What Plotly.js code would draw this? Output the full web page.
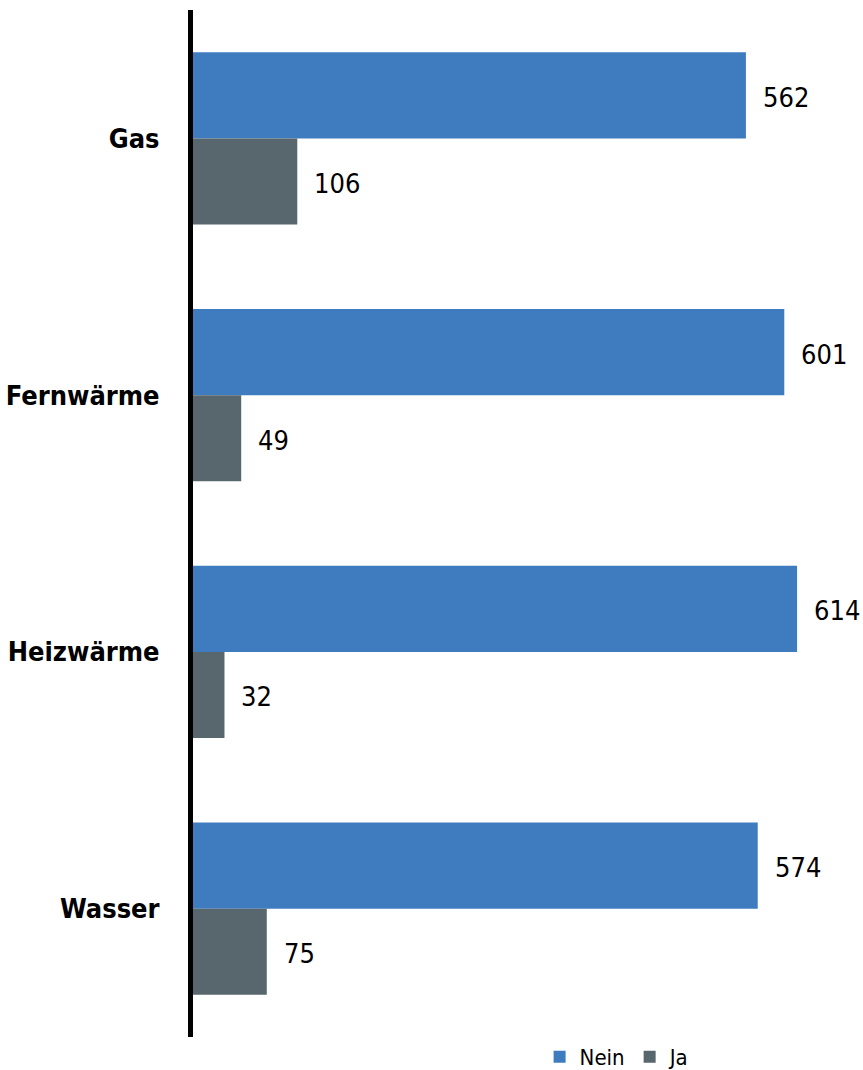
<!DOCTYPE html>
<html><head><meta charset="utf-8">
<script src="https://cdn.plot.ly/plotly-3.0.1.min.js"></script>
<style>html,body{margin:0;padding:0;background:#fff}</style>
</head><body>
<div id="chart" style="width:863px;height:1070px"></div>
<script>
const categories = ["Gas", "Fernwärme", "Heizwärme", "Wasser"];
const nein = [562, 601, 614, 574];
const ja = [106, 49, 32, 75];
const seriesNames = ["Nein", "Ja"];

const FONT = '"DejaVu Sans Condensed", "Liberation Sans Narrow", Arial, sans-serif';
const traces = [
  {type:'bar', orientation:'h', name:seriesNames[0], y:categories, x:nein,
   marker:{color:'#3F7CBF'}, offsetgroup:'a', hoverinfo:'none'},
  {type:'bar', orientation:'h', name:seriesNames[1], y:categories, x:ja,
   marker:{color:'#58676E'}, offsetgroup:'b', hoverinfo:'none'}
];

const annotations = [];
categories.forEach((c,i)=>{
  annotations.push({x:nein[i], y:i, xref:'x', yref:'y', text:String(nein[i]), showarrow:false,
    xanchor:'left', yanchor:'middle', xshift:15, yshift:41, font:{family:FONT, size:27, color:'#000'}});
  annotations.push({x:ja[i], y:i, xref:'x', yref:'y', text:String(ja[i]), showarrow:false,
    xanchor:'left', yanchor:'middle', xshift:15, yshift:-45, font:{family:FONT, size:27, color:'#000'}});
});

const layout = {
  width:863, height:1070,
  margin:{l:193, r:0, t:10, b:33, autoexpand:false},
  paper_bgcolor:'#fff', plot_bgcolor:'#fff',
  barmode:'group', bargap:0.33, bargroupgap:0,
  showlegend:true,
  legend:{orientation:'h', x:0.633, xanchor:'center', y:-0.0195, yanchor:'middle',
    font:{family:FONT, size:22, color:'#000'}, traceorder:'normal', itemwidth:30},
  xaxis:{range:[0,681], showgrid:false, zeroline:false, showticklabels:false, showline:false, fixedrange:true},
  yaxis:{type:'category', autorange:'reversed', showgrid:false, zeroline:false,
    showline:true, linecolor:'#000', linewidth:5,
    ticks:'outside', ticklen:23, tickcolor:'rgba(0,0,0,0)',
    tickfont:{family:FONT, size:27, color:'#000', weight:'bold'}},
  annotations:annotations
};
Plotly.newPlot('chart', traces, layout, {staticPlot:true});
</script>
</body></html>
